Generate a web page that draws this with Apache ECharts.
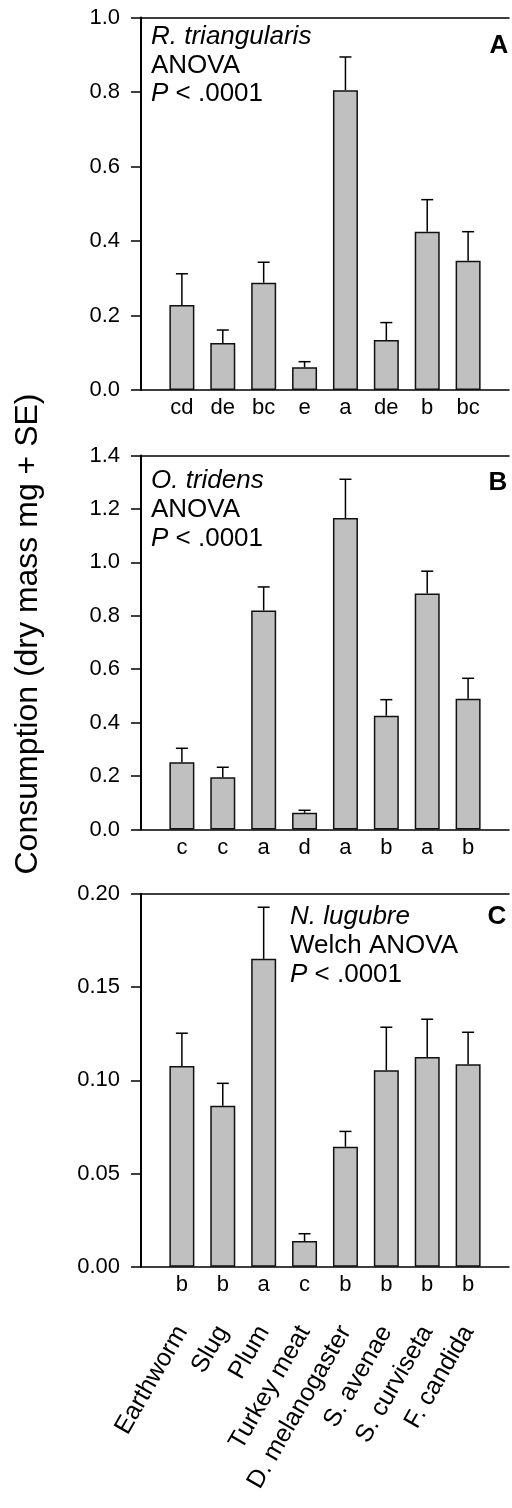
<!DOCTYPE html>
<html><head><meta charset="utf-8">
<script src="https://cdn.jsdelivr.net/npm/echarts@6/dist/echarts.min.js"></script>
<style>html,body{margin:0;padding:0;background:#fff}#c{width:512px;height:1508px}</style>
</head><body><div id="c"></div>
<script>
// ---- data ----
const foods = ['Earthworm','Slug','Plum','Turkey meat','D. melanogaster','S. avenae','S. curviseta','F. candida'];
const meanA = [0.228,0.126,0.288,0.061,0.805,0.134,0.425,0.347];
const seA   = [0.084,0.035,0.055,0.015,0.089,0.047,0.086,0.078];
const lettersA = ['cd','de','bc','e','a','de','b','bc'];
const meanB = [0.252,0.196,0.820,0.0625,1.166,0.426,0.883,0.489];
const seB   = [0.052,0.037,0.088,0.0095,0.145,0.060,0.084,0.077];
const lettersB = ['c','c','a','d','a','b','a','b'];
const meanC = [0.1077,0.0864,0.1652,0.0138,0.0644,0.1054,0.1125,0.1086];
const seC   = [0.0176,0.0120,0.0277,0.0039,0.0082,0.0231,0.0203,0.0172];
const lettersC = ['b','b','a','c','b','b','b','b'];
const yTicksA = ['0.0','0.2','0.4','0.6','0.8','1.0'];
const yTicksB = ['0.0','0.2','0.4','0.6','0.8','1.0','1.2','1.4'];
const yTicksC = ['0.00','0.05','0.10','0.15','0.20'];
const yStepA = 0.2, yStepB = 0.2, yStepC = 0.05;
const yTitle = 'Consumption (dry mass mg + SE)';

// ---- layout ----
const FONT = '"Liberation Sans", Arial, Helvetica, sans-serif';
const grids = [
  {left:141, right:0, top:17.5, height:372.5},
  {left:141, right:0, top:455.5, height:374},
  {left:141, right:0, top:894, height:372.7}
];
const panels = [
  {mean:meanA, se:seA, letters:lettersA, ticks:yTicksA, step:yStepA},
  {mean:meanB, se:seB, letters:lettersB, ticks:yTicksB, step:yStepB},
  {mean:meanC, se:seC, letters:lettersC, ticks:yTicksC, step:yStepC}
];

const xAxes = [], yAxes = [], series = [];
panels.forEach((p, i) => {
  xAxes.push({
    type:'value', gridIndex:i, min:0, max:9, interval:1, position:'bottom',
    axisLine:{show:true, onZero:false, lineStyle:{color:'#000', width:1.5}},
    axisTick:{show:false}, splitLine:{show:false},
    axisLabel:{margin:7, fontSize:22, color:'#000', fontFamily:FONT,
      formatter:v => p.letters[v-1] || ''}
  });
  xAxes.push({
    type:'value', gridIndex:i, min:0, max:9, interval:1, position:'top',
    axisLine:{show:true, onZero:false, lineStyle:{color:'#000', width:1.5}},
    axisTick:{show:false}, splitLine:{show:false}, axisLabel:{show:false}
  });
  yAxes.push({
    type:'value', gridIndex:i, min:0, max:p.step*(p.ticks.length-1), interval:p.step,
    axisLine:{show:true, lineStyle:{color:'#000', width:2}},
    axisTick:{show:true, length:10, lineStyle:{color:'#000', width:1.5}},
    splitLine:{show:false},
    axisLabel:{margin:21, fontSize:22, color:'#000', fontFamily:FONT,
      formatter:v => p.ticks[Math.round(v/p.step)]}
  });
  series.push({
    type:'bar', xAxisIndex:i*2, yAxisIndex:i, barWidth:25,
    itemStyle:{color:'#c0c0c0', borderColor:'#111', borderWidth:1.5},
    data:p.mean.map((m,k) => [k+1, m]), z:2
  });
  series.push({
    type:'custom', xAxisIndex:i*2, yAxisIndex:i, z:3,
    data:p.mean.map((m,k) => [k+1, m, p.se[k]]),
    renderItem:(params, api) => {
      const x = api.value(0), m = api.value(1), s = api.value(2);
      const a = api.coord([x, m]), b = api.coord([x, m + s]);
      return {type:'group', children:[
        {type:'line', shape:{x1:a[0], y1:a[1], x2:b[0], y2:b[1]}, style:{stroke:'#000', lineWidth:1.5}},
        {type:'line', shape:{x1:b[0]-6, y1:b[1], x2:b[0]+6, y2:b[1]}, style:{stroke:'#000', lineWidth:1.5}}
      ]};
    }
  });
});
// category names under panel C
xAxes.push({
  type:'value', gridIndex:2, min:0, max:9, interval:1, position:'bottom',
  axisLine:{show:false}, axisTick:{show:false}, splitLine:{show:false},
  axisLabel:{margin:61, rotate:60, fontSize:25, color:'#000', fontFamily:FONT,
    padding:[14,0,0,0], formatter:v => foods[v-1] || ''}
});

const AF = 26;
function txt(x, y, text, opts) {
  return Object.assign({type:'text', x:x, y:y, style:Object.assign({
    text:text, fill:'#000', font:AF + 'px ' + FONT, textVerticalAlign:'middle', textAlign:'left'
  }, opts || {})});
}
const rich = {i:{fontStyle:'italic', fontSize:AF, fontFamily:FONT, fill:'#000'}};
function ptxt(x, y) {
  return {type:'text', x:x, y:y, style:{text:'{i|P} < .0001', rich:rich, fill:'#000', font:AF + 'px ' + FONT, textVerticalAlign:'middle'}};
}
const graphics = [
  {type:'text', x:28, y:634, rotation:Math.PI/2,
    style:{text:yTitle, fill:'#000', font:'32px ' + FONT, textAlign:'center', textVerticalAlign:'middle'}},
  txt(151, 37, 'R. triangularis', {font:'italic ' + AF + 'px ' + FONT}),
  txt(151, 66, 'ANOVA'),
  ptxt(151, 94),
  txt(499, 46, 'A', {font:'bold 26px ' + FONT, textAlign:'center'}),
  txt(151, 481, 'O. tridens', {font:'italic ' + AF + 'px ' + FONT}),
  txt(151, 510, 'ANOVA'),
  ptxt(151, 539),
  txt(498, 483, 'B', {font:'bold 26px ' + FONT, textAlign:'center'}),
  txt(290, 917, 'N. lugubre', {font:'italic ' + AF + 'px ' + FONT}),
  txt(290, 946, 'Welch ANOVA'),
  ptxt(290, 975),
  txt(497, 917, 'C', {font:'bold 26px ' + FONT, textAlign:'center'})
];

const chart = echarts.init(document.getElementById('c'), null, {renderer:'canvas'});
chart.setOption({
  animation:false, backgroundColor:'#fff',
  textStyle:{fontFamily:FONT},
  grid:grids, xAxis:xAxes, yAxis:yAxes, series:series, graphic:graphics
});
</script></body></html>
